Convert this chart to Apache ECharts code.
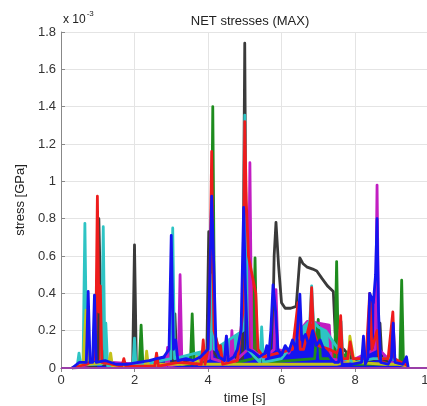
<!DOCTYPE html>
<html><head><meta charset="utf-8">
<script src="https://cdn.jsdelivr.net/npm/echarts@6/dist/echarts.min.js"></script>
<style>html,body{margin:0;padding:0;background:#fff}#c{width:427px;height:406px}</style>
</head><body><div id="c"></div>
<script>
// ---- data (time [s], stress [GPa] x 1e-3) ----
const BLACK = [[0.3,0],[0.95,0.01],[1.0,0.05],[1.03,0.80],[1.07,0.44],[1.12,0.02],[1.6,0.01],[1.95,0.02],[2.0,0.66],[2.05,0.02],[2.8,0.02],[3.05,0.03],[3.1,0.29],[3.15,0.03],[3.9,0.03],[3.97,0.1],[4.02,0.73],[4.08,0.1],[4.3,0.05],[4.6,0.06],[4.94,0.05],[5.0,1.74],[5.05,0.1],[5.3,0.08],[5.5,0.05],[5.7,0.1],[5.77,0.3],[5.8,0.6],[5.85,0.78],[5.92,0.55],[6.0,0.35],[6.1,0.32],[6.25,0.32],[6.4,0.33],[6.5,0.59],[6.58,0.56],[6.7,0.54],[6.85,0.53],[6.96,0.52],[7.1,0.48],[7.25,0.44],[7.41,0.41],[7.46,0.19],[7.55,0.12],[7.7,0.1],[7.9,0.05],[8.1,0.03],[8.63,0.05],[8.68,0.24],[8.73,0.05],[9.0,0.03],[9.45,0.01]];
const GREEN = [[0.3,0],[0.7,0.02],[1.2,0.03],[2.13,0.01],[2.18,0.23],[2.23,0.01],[3.0,0.02],[3.52,0.02],[3.57,0.29],[3.62,0.02],[4.0,0.05],[4.08,0.3],[4.13,1.40],[4.18,0.2],[4.3,0.05],[4.8,0.03],[5.23,0.05],[5.28,0.59],[5.33,0.05],[5.6,0.03],[6.9,0.05],[7.0,0.26],[7.06,0.05],[7.45,0.05],[7.5,0.57],[7.55,0.04],[7.9,0.1],[7.95,0.02],[8.7,0.02],[9.22,0.02],[9.27,0.47],[9.32,0.02],[9.45,0.01]];
const MAGENTA = [[0.3,0],[0.8,0.02],[1.4,0.03],[2.86,0.01],[2.9,0.11],[2.94,0.01],[3.19,0.02],[3.24,0.50],[3.29,0.02],[4.01,0.05],[4.06,0.3],[4.11,0.05],[4.45,0.03],[4.5,0.17],[4.55,0.02],[4.61,0.04],[4.65,0.20],[4.7,0.03],[5.09,0.1],[5.14,1.10],[5.19,0.1],[5.5,0.05],[5.8,0.1],[5.85,0.42],[5.9,0.1],[6.2,0.08],[6.5,0.2],[6.7,0.25],[7.0,0.24],[7.3,0.23],[7.35,0.05],[7.8,0.03],[8.55,0.1],[8.6,0.98],[8.65,0.1],[9.0,0.03],[9.45,0.01]];
const CYAN = [[0.3,0],[0.44,0.01],[0.49,0.08],[0.54,0.01],[0.6,0.02],[0.65,0.775],[0.7,0.02],[1.1,0.02],[1.15,0.757],[1.19,0.1],[1.22,0.24],[1.27,0.01],[1.96,0.02],[2.0,0.16],[2.04,0.01],[2.99,0.05],[3.04,0.75],[3.09,0.05],[4.07,0.1],[4.12,0.5],[4.17,0.1],[4.95,0.2],[5.0,1.355],[5.04,0.72],[5.08,0.1],[5.41,0.03],[5.46,0.22],[5.51,0.03],[6.0,0.05],[6.4,0.15],[6.6,0.22],[6.77,0.25],[6.82,0.44],[6.87,0.25],[7.0,0.22],[7.2,0.2],[7.55,0.1],[7.62,0.25],[7.67,0.05],[8.0,0.03],[8.5,0.05],[9.0,0.05],[9.45,0.01]];
const YELLOW = [[0.3,0],[0.6,0.02],[0.68,0.31],[0.73,0.02],[1.3,0.03],[1.35,0.08],[1.4,0.01],[2.29,0.01],[2.33,0.09],[2.38,0.01],[2.7,0.02],[3.3,0.02],[3.65,0.03],[3.7,0.06],[3.75,0.02],[4.3,0.02],[5.3,0.02],[6.0,0.02],[7.0,0.02],[7.5,0.02],[7.81,0.03],[7.86,0.17],[7.92,0.1],[7.98,0.03],[8.8,0.02],[9.2,0.02],[9.45,0.01]];
const RED = [[0.3,0],[0.7,0.02],[0.94,0.05],[0.99,0.92],[1.03,0.3],[1.07,0.44],[1.11,0.03],[1.66,0.01],[1.71,0.05],[1.76,0.01],[2.55,0.01],[2.6,0.08],[2.65,0.01],[2.9,0.02],[3.2,0.03],[3.82,0.02],[3.87,0.15],[3.92,0.02],[4.0,0.1],[4.04,0.3],[4.1,1.16],[4.16,0.2],[4.3,0.1],[4.34,0.12],[4.4,0.02],[4.8,0.04],[4.95,0.3],[5.0,1.32],[5.04,0.9],[5.1,0.6],[5.2,0.5],[5.3,0.4],[5.36,0.1],[5.5,0.06],[5.9,0.08],[6.3,0.1],[6.45,0.35],[6.51,0.1],[6.6,0.1],[6.78,0.25],[6.82,0.43],[6.87,0.2],[7.0,0.12],[7.3,0.1],[7.5,0.08],[7.56,0.1],[7.61,0.28],[7.66,0.05],[7.8,0.05],[7.87,0.14],[7.95,0.05],[8.3,0.05],[8.4,0.40],[8.46,0.1],[8.6,0.2],[8.66,0.05],[8.9,0.05],[9.03,0.30],[9.08,0.05],[9.45,0.01]];
const BLUE = [[0.3,0],[0.5,0.03],[0.69,0.03],[0.74,0.41],[0.79,0.03],[0.86,0.03],[0.91,0.39],[0.96,0.03],[1.2,0.04],[1.5,0.02],[1.8,0.02],[2.1,0.03],[2.4,0.04],[2.6,0.05],[2.8,0.06],[2.94,0.1],[3.0,0.71],[3.06,0.1],[3.12,0.15],[3.18,0.04],[3.4,0.05],[3.6,0.04],[3.8,0.06],[4.0,0.1],[4.05,0.5],[4.1,0.92],[4.15,0.6],[4.22,0.1],[4.3,0.06],[4.45,0.04],[4.5,0.17],[4.55,0.04],[4.7,0.06],[4.8,0.1],[4.9,0.2],[4.97,0.86],[5.02,0.42],[5.08,0.1],[5.2,0.09],[5.4,0.06],[5.55,0.08],[5.6,0.12],[5.65,0.06],[5.71,0.2],[5.77,0.445],[5.84,0.3],[5.9,0.1],[6.0,0.07],[6.1,0.12],[6.2,0.09],[6.3,0.15],[6.4,0.1],[6.5,0.395],[6.55,0.15],[6.65,0.18],[6.75,0.12],[6.85,0.2],[6.95,0.12],[7.05,0.15],[7.15,0.1],[7.25,0.08],[7.35,0.05],[7.45,0.03],[7.55,0.03],[7.6,0.1],[7.65,0.02],[7.9,0.02],[8.18,0.03],[8.23,0.17],[8.28,0.02],[8.35,0.05],[8.4,0.40],[8.5,0.35],[8.56,0.5],[8.6,0.80],[8.64,0.3],[8.7,0.03],[8.9,0.02],[8.99,0.05],[9.04,0.24],[9.09,0.03],[9.3,0.02],[9.4,0.06],[9.45,0]];
const BASELINE = [[0,0],[10,0]];
const X_TICKS = ['0','2','4','6','8','10'];
const Y_TICKS = ['0','0.2','0.4','0.6','0.8','1','1.2','1.4','1.6','1.8'];

const chart = echarts.init(document.getElementById('c'), null, {renderer:'canvas'});
const FONT = 'Liberation Sans, Arial, sans-serif';
function mk(name, data, color, area){
  return {name, type:'line', data, symbol:'none', smooth:false,
    lineStyle:{color, width:2.8, join:'round'}, itemStyle:{color},
    areaStyle: area ? {color, opacity:1, origin:'start'} : undefined,
    silent:true, animation:false, clip:true};
}
chart.setOption({
  animation:false,
  backgroundColor:'#fff',
  title:{text:'NET stresses (MAX)', left:245, textAlign:'center', top:10,
    textStyle:{fontFamily:FONT, fontSize:13, fontWeight:'normal', color:'#222'}},
  grid:{left:61, top:32, width:367.5, height:336, containLabel:false, outerBoundsMode:'none'},
  xAxis:[{type:'value', min:0, max:10, interval:2,
    name:'time [s]', nameLocation:'middle', nameGap:24,
    nameTextStyle:{fontFamily:FONT, fontSize:13, color:'#222'},
    axisLine:{show:true, onZero:false, lineStyle:{color:'#888', width:1}},
    axisTick:{inside:true, length:4, lineStyle:{color:'#888'}},
    axisLabel:{fontFamily:FONT, fontSize:13, color:'#333', margin:6,
      formatter:(v)=>X_TICKS[Math.round(v/2)]},
    splitLine:{show:true, lineStyle:{color:'#e4e4e4', width:1}}},
   {type:'value', position:'top', min:0, max:10, interval:2,
    axisLine:{show:true, lineStyle:{color:'#888', width:1}},
    axisTick:{inside:true, length:4, lineStyle:{color:'#888'}},
    axisLabel:{show:false}, splitLine:{show:false}}],
  yAxis:{type:'value', min:0, max:1.8, interval:0.2,
    name:'stress [GPa]', nameLocation:'middle', nameGap:30, nameRotate:90,
    nameTextStyle:{fontFamily:FONT, fontSize:13, color:'#222'},
    axisLine:{show:true, lineStyle:{color:'#888', width:1}},
    axisTick:{inside:true, length:4, lineStyle:{color:'#888'}},
    axisLabel:{fontFamily:FONT, fontSize:13, color:'#333', margin:5,
      formatter:(v)=>Y_TICKS[Math.round(v/0.2)]},
    splitLine:{show:true, lineStyle:{color:'#e4e4e4', width:1}}},
  graphic:[{type:'text', left:63, top:10,
    style:{text:'{a|x 10}{b|-3}', rich:{
      a:{fontFamily:FONT, fontSize:12, fill:'#222', verticalAlign:'bottom', lineHeight:16},
      b:{fontFamily:FONT, fontSize:8, fill:'#222', verticalAlign:'top', lineHeight:16, padding:[0,0,8,1]}}}}],
  series:[
    mk('black', BLACK, '#3a3a3a', false),
    mk('green', GREEN, '#1e8c1e', true),
    mk('magenta', MAGENTA, '#c21ec2', true),
    mk('cyan', CYAN, '#2ec4c4', true),
    mk('yellow', YELLOW, '#c4c21a', true),
    mk('red', RED, '#ee1c1c', true),
    mk('blue', BLUE, '#1414f0', true),
    Object.assign(mk('base', BASELINE, '#9a3fa8', false), {lineStyle:{color:'#9a3fa8', width:2}})
  ]
});
</script></body></html>
